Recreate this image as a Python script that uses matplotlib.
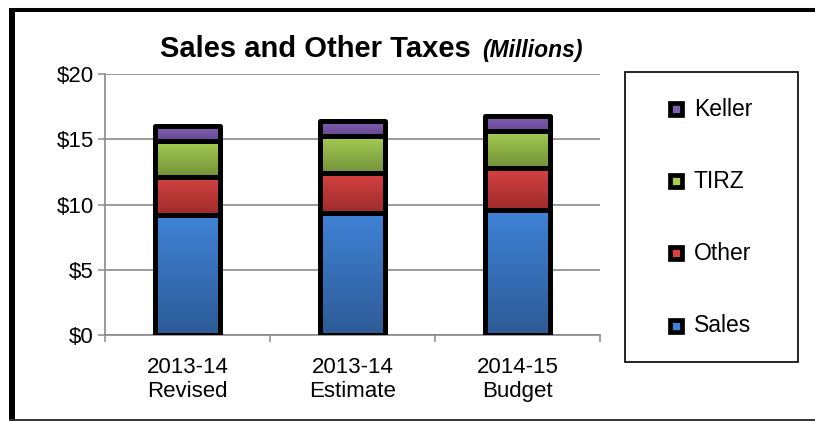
import numpy as np
import matplotlib.pyplot as plt
from matplotlib.lines import Line2D
from matplotlib.patches import Rectangle
from matplotlib.colors import LinearSegmentedColormap

plt.rcParams["font.family"] = ["Liberation Sans", "DejaVu Sans"]

# Sales and other taxes, millions of dollars
periods = ["2013-14\nRevised", "2013-14\nEstimate", "2014-15\nBudget"]
series = ["Sales", "Other", "TIRZ", "Keller"]
sales = [9.2, 9.35, 9.6]
other = [2.95, 3.1, 3.2]
tirz = [2.7, 2.8, 2.85]
keller = [1.15, 1.2, 1.15]
yticks = [0, 5, 10, 15, 20]
ytick_labels = ["$0", "$5", "$10", "$15", "$20"]

# light (top) / dark (bottom) shade for each segment
top_colors = ["#3f82d6", "#d64343", "#a6cc52", "#8060b0"]
bottom_colors = ["#2d5b96", "#9e2b2b", "#73923a", "#664893"]

W, H = 815, 421
fig = plt.figure(figsize=(W / 100, H / 100), dpi=100)
ax = fig.add_axes([105 / W, 1 - 335 / H, 495 / W, (335 - 74.3) / H])

grid_col = "#8a8a8a"
x = np.arange(len(periods))
width = 0.395
grad = np.linspace(1, 0, 64)[:, None]

bottom = np.zeros(len(periods))
for name, vals, c_top, c_bot in zip(series, [sales, other, tirz, keller], top_colors, bottom_colors):
    vals = np.asarray(vals)
    bars = ax.bar(x, vals, width, bottom=bottom, color=c_top, linewidth=0, zorder=2)
    cmap = LinearSegmentedColormap.from_list(name, [c_bot, c_top])
    for p in bars:
        x0, y0 = p.get_x(), p.get_y()
        im = ax.imshow(grad, extent=[x0, x0 + p.get_width(), y0, y0 + p.get_height()],
                       aspect="auto", cmap=cmap, vmin=0, vmax=1, zorder=2.5)
        im.set_clip_path(p)
    ax.bar(x, vals, width, bottom=bottom, fill=False, edgecolor="black",
           linewidth=3.6, joinstyle="round", zorder=4)
    bottom = bottom + vals

ax.set_xlim(-0.5, len(periods) - 0.5)
ax.set_ylim(0, 20)
ax.set_yticks(yticks)
ax.set_yticklabels(ytick_labels)
ax.set_xticks(x)
ax.set_xticklabels(periods, linespacing=1.15)
ax.set_xticks(np.arange(len(periods) + 1) - 0.5, minor=True)
ax.tick_params(axis="y", length=5, width=1.1, color=grid_col, labelsize=16, pad=3)
ax.tick_params(axis="x", which="major", length=0, labelsize=16, pad=16)
ax.tick_params(axis="x", which="minor", length=5, width=1.1, color=grid_col)
ax.grid(axis="y", color=grid_col, linewidth=1.2, zorder=0)
ax.set_axisbelow(True)
for side in ["top", "right"]:
    ax.spines[side].set_visible(False)
for side in ["left", "bottom"]:
    ax.spines[side].set_color(grid_col)
    ax.spines[side].set_linewidth(1.2)

# title in two parts
fig.text(160 / W, 1 - 57 / H, "Sales and Other Taxes", fontsize=21, fontweight="bold",
         va="baseline", ha="left")
fig.text(482 / W, 1 - 57 / H, "(Millions)", fontsize=16.5, fontweight="bold",
         style="italic", va="baseline", ha="left")

# legend box, top entry is the top segment
fig.add_artist(Rectangle((625 / W, 1 - 362 / H), 173 / W, 290 / H, transform=fig.transFigure,
                         facecolor="white", edgecolor="black", linewidth=1.2))
for i, (name, col) in enumerate(zip(series[::-1], top_colors[::-1])):
    ypos = 1 - (109 + i * 72.2) / H
    fig.add_artist(Line2D([676 / W], [ypos], transform=fig.transFigure, marker="s",
                          markersize=8.5, markerfacecolor=col, markeredgecolor="black",
                          markeredgewidth=3.4))
    fig.text(694 / W, ypos, name, fontsize=16.5, va="center", ha="left")

# outer frame
fig.add_artist(Line2D([12 / W, 12 / W], [1 - 8 / H, 1 - 421 / H], transform=fig.transFigure,
                      color="black", linewidth=4.3, solid_capstyle="butt"))
fig.add_artist(Line2D([9 / W, 1], [1 - 10 / H, 1 - 10 / H], transform=fig.transFigure,
                      color="black", linewidth=2.9, solid_capstyle="butt"))
fig.add_artist(Line2D([9 / W, 1], [1 - 419.5 / H, 1 - 419.5 / H], transform=fig.transFigure,
                      color="#333333", linewidth=1.4, solid_capstyle="butt"))

fig.savefig("out.png", dpi=100)
